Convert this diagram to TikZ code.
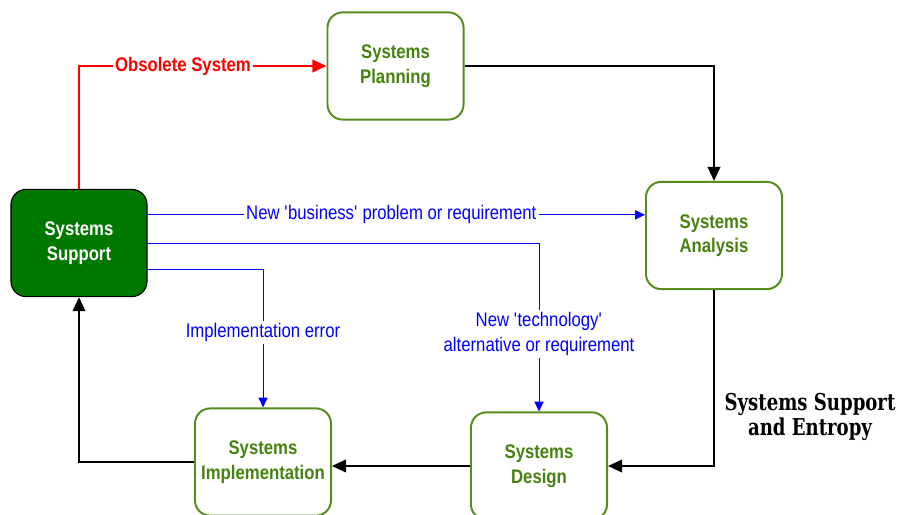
\documentclass[tikz,border=0pt]{standalone}
\usepackage{fontspec}
\setmainfont{Liberation Sans}[FakeStretch=0.85]
\newfontfamily\titlefont{DejaVu Serif}[FakeStretch=0.78]
\usepackage{tikz}
\usetikzlibrary{arrows.meta,calc}
\definecolor{phaseline}{RGB}{86,140,30}
\definecolor{phasetext}{RGB}{70,130,15}
\definecolor{supportfill}{RGB}{0,120,0}

\begin{document}
\begin{tikzpicture}[x=0.025cm,y=-0.025cm,
  phase/.style={draw=phaseline,line width=1.4pt,rounded corners=0.38cm,fill=white,
    minimum width=3.4cm,minimum height=2.68cm,align=center,text=phasetext,
    font=\fontsize{14}{17.5}\selectfont\bfseries},
  flow/.style={line width=1.4pt,-{Triangle[length=10pt,width=9pt]}},
  cause/.style={blue,line width=0.7pt,-{Triangle[length=7pt,width=6.5pt]}},
  lab/.style={fill=white,inner sep=1.5pt,align=center,font=\fontsize{14}{17.5}\selectfont}]
\useasboundingbox (0,0) rectangle (898,514);
\node[phase] (pla) at (395.5,66) {Systems\\Planning};
\node[phase] (ana) at (714,235.5) {Systems\\Analysis};
\node[phase] (des) at (539,466) {Systems\\Design};
\node[phase] (imp) at (263,462) {Systems\\Implementation};
\node[phase,fill=supportfill,draw=black,line width=0.8pt,text=white] (sup) at (79,243) {Systems\\Support};
\coordinate (s1) at ($(sup.north east)!0.24!(sup.south east)$);
\coordinate (s2) at (sup.east);
\coordinate (s3) at ($(sup.north east)!0.74!(sup.south east)$);
% cycle of phases
\draw[flow] (pla.east) -| (ana.north);
\draw[flow] (ana.south) |- (des.east);
\draw[flow] (des.west) -- (des.west -| imp.east);
\draw[flow] (imp.west) -| (sup.south);
% back to planning
\draw[red,line width=1.1pt,-{Triangle[length=10pt,width=9pt]}] (sup.north) |- node[pos=0.71,lab,text=red,font=\fontsize{14}{17.5}\selectfont\bfseries] {Obsolete System} (pla.west);
% blue triggers
\draw[cause] (s1) -- node[pos=0.49,lab,text=blue] {New \textquotesingle business\textquotesingle{} problem or requirement} (s1 -| ana.west);
\draw[cause] (s2) -| node[pos=0.77,lab,text=blue] {New \textquotesingle technology\textquotesingle\\alternative or requirement} (des.north);
\draw[cause] (s3) -| node[pos=0.73,lab,text=blue] {Implementation error} (imp.north);
\node[font=\titlefont\fontsize{16.5}{17.5}\selectfont\bfseries,align=center] (ttl) at (810,417) {Systems Support\\and Entropy};
\end{tikzpicture}
\end{document}
